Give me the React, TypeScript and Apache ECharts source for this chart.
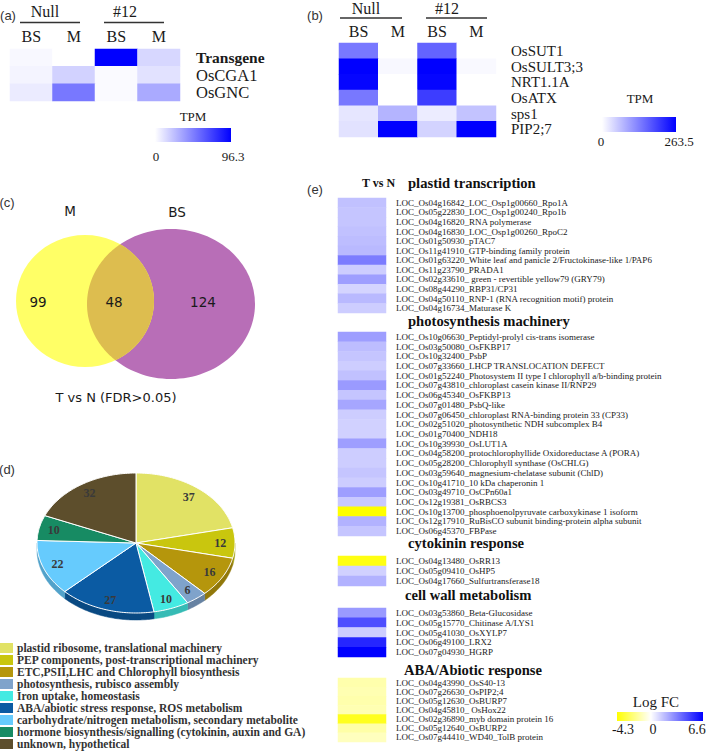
import React, { useEffect, useRef } from 'react';
import * as echarts from 'echarts';

// ---------- (a) TPM heatmap ----------
const groupLabels = ['Null', '#12'];
const tissueLabels = ['BS', 'M', 'BS', 'M'];
const aGenes = ['Transgene', 'OsCGA1', 'OsGNC'];
const aTPM = [
  [2.5, 0, 96.3, 15],
  [4, 17, 2, 11],
  [7.5, 51, 2, 32],
];
const aScale = [0, 96.3];

// ---------- (b) TPM heatmap ----------
const bGenes = ['OsSUT1', 'OsSULT3;3', 'NRT1.1A', 'OsATX', 'sps1', 'PIP2;7'];
const bTPM = [
  [140, 0, 160, 0],
  [263.5, 7, 263.5, 6],
  [258, 0, 258, 0],
  [140, 0, 200, 0],
  [26, 78, 20, 62],
  [30, 263.5, 45, 263.5],
];
const bScale = [0, 263.5];

// ---------- (c) Venn ----------
const vennSets = ['M', 'BS'];
const vennCounts = [99, 48, 124]; // M only, both, BS only
const vennCaption = 'T vs N (FDR>0.05)';

// ---------- (d) pie ----------
const pieCategories = [
  'plastid ribosome, translational machinery',
  'PEP components, post-transcriptional machinery',
  'ETC,PSII,LHC and Chlorophyll biosynthesis',
  'photosynthesis, rubisco assembly',
  'Iron uptake, homeostasis',
  'ABA/abiotic stress response, ROS metabolism',
  'carbohydrate/nitrogen metabolism, secondary metabolite',
  'hormone biosynthesis/signalling (cytokinin, auxin and GA)',
  'unknown, hypothetical',
];
const pieValues = [37, 12, 16, 6, 10, 27, 22, 10, 32];
const pieColors = ['#E1E265', '#C9C60E', '#B5960C', '#7FA3CB', '#44EAE2', '#0B5BA3', '#66CBFD', '#178B63', '#5D4E2C'];

// ---------- (e) Log FC heatmap ----------
const eColumn = ['T vs N'];
const eSections = ['plastid transcription', 'photosynthesis machinery', 'cytokinin response', 'cell wall metabolism', 'ABA/Abiotic response'];
const plastidGenes = [
  'LOC_Os04g16842_LOC_Osp1g00660_Rpo1A',
  'LOC_Os05g22830_LOC_Osp1g00240_Rpo1b',
  'LOC_Os04g16820_RNA polymerase',
  'LOC_Os04g16830_LOC_Osp1g00260_RpoC2',
  'LOC_Os01g50930_pTAC7',
  'LOC_Os11g41910_GTP-binding family protein',
  'LOC_Os01g63220_White leaf and panicle 2/Fructokinase-like 1/PAP6',
  'LOC_Os11g23790_PRADA1',
  'LOC_Os02g33610_ green - revertible yellow79 (GRY79)',
  'LOC_Os08g44290_RBP31/CP31',
  'LOC_Os04g50110_RNP-1 (RNA recognition motif) protein',
  'LOC_Os04g16734_Maturase K',
];
const plastidFC = [1.6, 1.5, 1.5, 1.6, 1.7, 1.8, 3.4, 1.3, 2.5, 1.1, 1.8, 1.3];
const photoGenes = [
  'LOC_Os10g06630_Peptidyl-prolyl cis-trans isomerase',
  'LOC_Os03g50080_OsFKBP17',
  'LOC_Os10g32400_PsbP',
  'LOC_Os07g33660_LHCP TRANSLOCATION DEFECT',
  'LOC_Os01g52240_Photosystem II type I chlorophyll a/b-binding protein',
  'LOC_Os07g43810_chloroplast casein kinase II/RNP29',
  'LOC_Os06g45340_OsFKBP13',
  'LOC_Os07g01480_PsbQ-like',
  'LOC_Os07g06450_chloroplast RNA-binding protein 33 (CP33)',
  'LOC_Os02g51020_photosynthetic NDH subcomplex B4',
  'LOC_Os01g70400_NDH18',
  'LOC_Os10g39930_OsLUT1A',
  'LOC_Os04g58200_protochlorophyllide Oxidoreductase A (PORA)',
  'LOC_Os05g28200_Chlorophyll synthase (OsCHLG)',
  'LOC_Os03g59640_magnesium-chelatase subunit (ChlD)',
  'LOC_Os10g41710_10 kDa chaperonin 1',
  'LOC_Os03g49710_OsCPn60a1',
  'LOC_Os12g19381_OsRBCS3',
  'LOC_Os10g13700_phosphoenolpyruvate carboxykinase 1 isoform',
  'LOC_Os12g17910_RuBisCO subunit binding-protein alpha subunit',
  'LOC_Os06g45370_FBPase',
];
const photoFC = [2.5, 1.7, 1.5, 1.3, 1.6, 2.6, 1.5, 2.3, 1.3, 1.2, 1.2, 2.5, 1.3, 1.3, 1.5, 1.3, 2.5, 1.4, -4.3, 2.0, 1.5];
const cytoGenes = ['LOC_Os04g13480_OsRR13', 'LOC_Os05g09410_OsHP5', 'LOC_Os04g17660_Sulfurtransferase18'];
const cytoFC = [-4.0, 1.2, 2.0];
const wallGenes = [
  'LOC_Os03g53860_Beta-Glucosidase',
  'LOC_Os05g15770_Chitinase A/LYS1',
  'LOC_Os05g41030_OsXYLP7',
  'LOC_Os06g49100_LRX2',
  'LOC_Os07g04930_HGRP',
];
const wallFC = [2.6, 4.6, 1.3, 5.6, 6.6];
const abaGenes = [
  'LOC_Os04g43990_OsS40-13',
  'LOC_Os07g26630_OsPIP2;4',
  'LOC_Os05g12630_OsBURP7',
  'LOC_Os04g45810_ OsHox22',
  'LOC_Os02g36890_myb domain protein 16',
  'LOC_Os05g12640_OsBURP2',
  'LOC_Os07g44410_WD40_TolB protein',
];
const abaFC = [-1.4, -1.3, -1.4, -1.3, -3.8, -1.5, -1.1];
const logFCTicks = [-4.3, 0, 6.6];

const eGeneLists = [plastidGenes, photoGenes, cytoGenes, wallGenes, abaGenes];
const eValueLists = [plastidFC, photoFC, cytoFC, wallFC, abaFC];

// ---------- layout (positions only) ----------
const serif = '"Liberation Serif", "Times New Roman", serif';
const sansA = '"Liberation Sans", Arial, sans-serif';
const sansV = '"DejaVu Sans", Verdana, sans-serif';
const eLayout = [
  { top: 198, height: 115, headX: 408, headY: 183 },
  { top: 332, height: 204, headX: 408, headY: 321 },
  { top: 556, height: 30, headX: 408, headY: 543 },
  { top: 608, height: 49, headX: 405, headY: 595 },
  { top: 678, height: 64, headX: 404, headY: 670 },
];

function rgb(r: number, g: number, b: number) {
  return `rgb(${Math.round(r)},${Math.round(g)},${Math.round(b)})`;
}
function fcColor(v: number) {
  const [lo, mid, hi] = logFCTicks;
  if (v <= mid) {
    const t = (v - lo) / (mid - lo);
    return rgb(255, 255, 255 * t);
  }
  const t = (v - mid) / (hi - mid);
  return rgb(255 * (1 - t), 255 * (1 - t), 255);
}
const fcStops = Array.from({ length: 34 }, (_, k) => fcColor(logFCTicks[0] + ((logFCTicks[2] - logFCTicks[0]) * k) / 33));

function darken(hex: string, f: number) {
  const n = parseInt(hex.slice(1), 16);
  return rgb(((n >> 16) & 255) * f, ((n >> 8) & 255) * f, (n & 255) * f);
}

function T(text: string, x: number, y: number, o: any = {}) {
  const align = o.align || 'center';
  return {
    type: 'text',
    silent: true,
    z: 10,
    style: {
      text,
      x,
      y,
      align,
      textAlign: align,
      verticalAlign: 'middle',
      textVerticalAlign: 'middle',
      fontSize: o.size || 12,
      fontFamily: o.family || serif,
      fontWeight: o.weight || 'normal',
      fill: o.color || '#1a1a1a',
    },
  };
}
function L(x1: number, x2: number, y: number) {
  return { type: 'line', silent: true, shape: { x1, y1: y, x2, y2: y }, style: { stroke: '#333', lineWidth: 1.5 } };
}
function colorBar(x: number, y: number, w: number, h: number, colors: string[]) {
  return {
    type: 'rect',
    silent: true,
    shape: { x, y, width: w, height: h },
    style: {
      fill: new echarts.graphic.LinearGradient(
        0, 0, 1, 0,
        colors.map((c, i) => ({ offset: i / (colors.length - 1), color: c }))
      ),
    },
  };
}

function ellipseArc(e: any, from: number, to: number, n: number) {
  const pts: number[][] = [];
  for (let k = 0; k <= n; k++) {
    const a = from + ((to - from) * k) / n;
    pts.push([e.cx + e.rx * Math.cos(a), e.cy + e.ry * Math.sin(a)]);
  }
  return pts;
}
function inside(e: any, p: number[]) {
  return ((p[0] - e.cx) / e.rx) ** 2 + ((p[1] - e.cy) / e.ry) ** 2 <= 1;
}

function buildOption() {
  const aKeys = tissueLabels.map((t, i) => groupLabels[Math.floor(i / 2)] + ' ' + t);
  const lastWord = (v: string) => v.split(' ').pop();
  const cat = (grid: number, data: any[], extra: any = {}) => ({
    gridIndex: grid,
    type: 'category',
    data,
    axisLine: { show: false },
    axisTick: { show: false },
    splitLine: { show: false },
    ...extra,
  });

  const xAxis: any[] = [
    cat(0, aKeys, { position: 'top', axisLabel: { formatter: lastWord, fontSize: 16, fontFamily: serif, color: '#1a1a1a', margin: 5, interval: 0 } }),
    cat(1, aKeys, { position: 'top', axisLabel: { formatter: lastWord, fontSize: 16, fontFamily: serif, color: '#1a1a1a', margin: 4, interval: 0 } }),
    ...eSections.map((_, i) =>
      cat(i + 2, eColumn, {
        position: 'top',
        show: i === 0,
        axisLabel: { fontSize: 12, fontWeight: 'bold', fontFamily: serif, color: '#111', margin: 9, align: 'left' },
      })
    ),
  ];
  const yAxis: any[] = [
    cat(0, aGenes.map((g, i) => (i === 0 ? { value: g, textStyle: { fontWeight: 'bold', fontSize: 15.5 } } : g)), {
      inverse: true, position: 'right',
      axisLabel: { fontSize: 16.5, fontFamily: serif, color: '#1a1a1a', margin: 16, interval: 0 },
    }),
    cat(1, bGenes, {
      inverse: true, position: 'right',
      axisLabel: { fontSize: 15, fontFamily: serif, color: '#1a1a1a', margin: 15, interval: 0 },
    }),
    ...eGeneLists.map((genes, i) =>
      cat(i + 2, genes, {
        inverse: true, position: 'right',
        axisLabel: { fontSize: 9, fontFamily: serif, color: '#1a1a1a', margin: 10, interval: 0 },
      })
    ),
  ];
  const grid: any[] = [
    { left: 10, top: 49, width: 170, height: 52 },
    { left: 339, top: 43, width: 157, height: 94 },
    ...eLayout.map((l) => ({ left: 338, top: l.top, width: 48, height: l.height })),
  ];

  const heat = (xi: number, rows: number[][]) => ({
    type: 'heatmap',
    xAxisIndex: xi,
    yAxisIndex: xi,
    data: rows.flatMap((row, r) => row.map((v, c) => [c, r, v])),
    itemStyle: { borderWidth: 0 },
    emphasis: { disabled: true },
  });

  const pieCx = 136, pieCy = 543, pieRx = 99, pieRy = 70, pieDepth = 7;
  const pieTotal = pieValues.reduce((s, v) => s + v, 0);
  const pt = (a: number, dy = 0) => [pieCx + pieRx * Math.cos(a), pieCy + pieRy * Math.sin(a) + dy];
  const arc = (s: number, e: number, dy = 0) => {
    const n = Math.max(2, Math.ceil((e - s) / (Math.PI / 180)));
    const out: number[][] = [];
    for (let k = 0; k <= n; k++) out.push(pt(s + ((e - s) * k) / n, dy));
    return out;
  };

  const pieSeries = {
    type: 'custom',
    coordinateSystem: 'none',
    silent: true,
    data: pieValues.map((v, i) => ({ value: v, name: pieCategories[i] })),
    renderItem: (params: any, api: any) => {
      const i = params.dataIndex;
      const v = api.value(0);
      let before = 0;
      for (let k = 0; k < i; k++) before += pieValues[k];
      const a0 = -Math.PI / 2 + (before / pieTotal) * 2 * Math.PI;
      const a1 = a0 + (v / pieTotal) * 2 * Math.PI;
      const color = pieColors[i];
      const children: any[] = [];
      const s = Math.max(a0, 0), e = Math.min(a1, Math.PI);
      if (e > s) {
        const upper = arc(s, e);
        const lower = arc(s, e, pieDepth).reverse();
        children.push({
          type: 'polygon', z2: 1,
          shape: { points: [...upper, ...lower] },
          style: { fill: darken(color, 0.8), stroke: darken(color, 0.8), lineWidth: 0.5 },
        });
      }
      children.push({
        type: 'polygon', z2: 2,
        shape: { points: [[pieCx, pieCy], ...arc(a0, a1)] },
        style: { fill: color, stroke: '#ffffff', lineWidth: 1, lineJoin: 'round' },
      });
      const m = (a0 + a1) / 2;
      children.push({
        type: 'text', z2: 3,
        style: {
          text: String(v),
          x: pieCx + 0.85 * pieRx * Math.cos(m),
          y: pieCy + 0.85 * pieRy * Math.sin(m),
          align: 'center', verticalAlign: 'middle',
          textAlign: 'center', textVerticalAlign: 'middle',
          fontSize: 12, fontWeight: 'bold', fontFamily: serif, fill: '#3a3a3a',
        },
      });
      return { type: 'group', children };
    },
  };

  // Venn
  const Y = { cx: 85, cy: 301, rx: 69, ry: 66 };
  const P = { cx: 171, cy: 304, rx: 84, ry: 75 };
  const yArc = ellipseArc(Y, -Math.PI, Math.PI, 720).filter((p) => inside(P, p));
  const pArc = ellipseArc(P, 0, 2 * Math.PI, 720).filter((p) => inside(Y, p));
  const lens = [...yArc, ...pArc];

  const graphic: any[] = [
    // panel letters
    T('(a)', 8, 15, { family: sansA, size: 13, color: '#333' }),
    T('(b)', 315, 15, { family: sansA, size: 13, color: '#333' }),
    T('(c)', 7, 202, { family: sansA, size: 13, color: '#333' }),
    T('(d)', 7, 469, { family: sansA, size: 13, color: '#333' }),
    T('(e)', 315, 189, { family: sansA, size: 13, color: '#333' }),
    // (a) group headers
    T(groupLabels[0], 45, 11, { size: 16 }),
    T(groupLabels[1], 125, 11, { size: 16 }),
    L(20, 80, 22.5),
    L(104, 164, 22.5),
    // (b) group headers
    T(groupLabels[0], 366, 8.5, { size: 16 }),
    T(groupLabels[1], 447, 8.5, { size: 16 }),
    L(340, 402, 18),
    L(426, 487, 18),
    // (a) colour bar
    T('TPM', 193, 116, { size: 13 }),
    colorBar(155, 128, 76, 14, ['#ffffff', '#0000ff']),
    T(String(aScale[0]), 156, 156, { size: 13 }),
    T(String(aScale[1]), 233, 156, { size: 13 }),
    // (b) colour bar
    T('TPM', 640, 98, { size: 13 }),
    colorBar(602, 117, 74, 15, ['#ffffff', '#0000ff']),
    T(String(bScale[0]), 601, 141, { size: 13 }),
    T(String(bScale[1]), 679, 141, { size: 13 }),
    // (c) Venn
    { type: 'ellipse', silent: true, shape: P, style: { fill: '#B86EB7' } },
    { type: 'ellipse', silent: true, shape: Y, style: { fill: '#FFFF66' } },
    { type: 'polygon', silent: true, shape: { points: lens }, style: { fill: '#DDBD4F' } },
    T(vennSets[0], 70, 211, { family: sansV, size: 13.5 }),
    T(vennSets[1], 177, 212, { family: sansV, size: 13.5 }),
    T(String(vennCounts[0]), 38, 302, { family: sansV, size: 13.5 }),
    T(String(vennCounts[1]), 114, 302, { family: sansV, size: 13.5 }),
    T(String(vennCounts[2]), 203, 302, { family: sansV, size: 13.5 }),
    T(vennCaption, 116, 397, { family: sansV, size: 13 }),
    // (d) legend
    ...pieCategories.flatMap((c, i) => [
      { type: 'rect', silent: true, shape: { x: 0, y: 643 + 12 * i, width: 13, height: 10 }, style: { fill: pieColors[i] } },
      T(c, 17, 648 + 12 * i, { align: 'left', weight: 'bold', size: 11.5, color: '#333' }),
    ]),
    // (e) section headings
    ...eSections.map((s, i) => T(s, eLayout[i].headX, eLayout[i].headY, { align: 'left', weight: 'bold', size: 14.6, color: '#111' })),
    // (e) colour bar
    T('Log FC', 656, 702, { size: 15 }),
    colorBar(617, 712, 86, 9, fcStops),
    T(String(logFCTicks[0]), 623, 729, { size: 14 }),
    T(String(logFCTicks[1]), 653, 729, { size: 14 }),
    T(String(logFCTicks[2]), 697, 729, { size: 14 }),
  ];

  return {
    animation: false,
    backgroundColor: '#ffffff',
    grid,
    xAxis,
    yAxis,
    visualMap: [
      { type: 'continuous', show: false, min: aScale[0], max: aScale[1], seriesIndex: 0, inRange: { color: ['#ffffff', '#0000ff'] } },
      { type: 'continuous', show: false, min: bScale[0], max: bScale[1], seriesIndex: 1, inRange: { color: ['#ffffff', '#0000ff'] } },
      { type: 'continuous', show: false, min: logFCTicks[0], max: logFCTicks[2], seriesIndex: [2, 3, 4, 5, 6], inRange: { color: fcStops } },
    ],
    series: [
      heat(0, aTPM),
      heat(1, bTPM),
      ...eValueLists.map((vals, i) => heat(i + 2, vals.map((v) => [v]))),
      pieSeries,
    ],
    graphic,
  };
}

export default function App() {
  const ref = useRef<HTMLDivElement>(null);
  useEffect(() => {
    const chart = echarts.init(ref.current!, null, { renderer: 'svg', width: 709, height: 751 });
    chart.setOption(buildOption() as any);
    return () => chart.dispose();
  }, []);
  return <div ref={ref} style={{ position: 'fixed', left: 0, top: 0, width: 709, height: 751, background: '#fff' }} />;
}
